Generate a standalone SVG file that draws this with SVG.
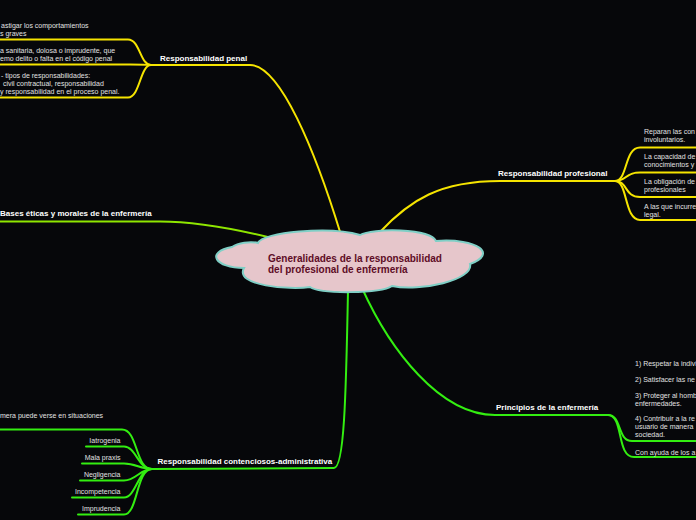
<svg xmlns="http://www.w3.org/2000/svg" width="696" height="520" viewBox="0 0 696 520">
<style>
.y{fill:none;stroke:#f5e400;stroke-width:2;stroke-linecap:round}
.g{fill:none;stroke:#33ee11;stroke-width:2;stroke-linecap:round}
.lg{fill:none;stroke:#8ee600;stroke-width:2;stroke-linecap:round}
.t{font-family:"Liberation Sans",Arial,sans-serif;font-size:7px;fill:#e2e2e2}
.n{font-family:"Liberation Sans",Arial,sans-serif;font-size:8px;font-weight:bold;fill:#ffffff}
.c{font-family:"Liberation Sans",Arial,sans-serif;font-size:10px;font-weight:bold;fill:#5e0c26}
</style>
<rect width="696" height="520" fill="#06070a"/>
<g id="connectors">
<path class="y" d="M341,235 C315,150 280,65 250,65 L151,65"/>
<path class="y" d="M151,65 C140,65 140,39.5 128,39.5 L0,39.5"/>
<path class="y" d="M151,65 C145,64.5 140,64.5 130,64.5 L0,64.5"/>
<path class="y" d="M151,65 C140,65 140,97.5 128,97.5 L0,97.5"/>
<path class="y" d="M380,232 C410,200 440,181 500,181 L615,181"/>
<path class="y" d="M615,181 C628,181 624,147.5 640,147.5 L696,147.5"/>
<path class="y" d="M615,181 C628,181 624,172.5 640,172.5 L696,172.5"/>
<path class="y" d="M615,181 C628,181 624,197 640,197 L696,197"/>
<path class="y" d="M615,181 C628,181 624,220 640,220 L696,220"/>
<path class="lg" d="M276,239 C240,230 200,221.5 160,221.5 L0,221.5"/>
<path class="g" d="M362,288 C390,350 440,415 495,415 L608,415"/>
<path class="g" d="M608,415 C622,415 617,441 632,441 L696,441"/>
<path class="g" d="M608,415 C624,415 616,457 634,457 L696,457"/>
<path class="g" d="M348,290 C346,400 344,468 334,468 L152,469"/>
<path class="g" d="M152,469 C135,469 138,429.5 122,429.5 L0,429.5"/>
<path class="g" d="M152,469 C138,469 136,446.5 124,446.5 L86,446.5"/>
<path class="g" d="M152,469 C140,469 136,463.5 124,463.5 L82,463.5"/>
<path class="g" d="M152,469 C140,469 136,480.5 124,480.5 L80,480.5"/>
<path class="g" d="M152,469 C138,469 136,497.5 124,497.5 L72,497.5"/>
<path class="g" d="M152,469 C136,469 138,514.5 124,514.5 L78,514.5"/>
</g>
<g id="center">
<path d="M258,243 C262,232 330,226 360,235 C372,228 430,228 436,241 C478,238 498,254 470,264 C474,280 420,292 392,286 C380,294 320,294 310,287 C290,290 234,286 244,268 C215,268 205,252 232,247 C238,243 250,241 258,243 Z" fill="#e6c6cb" stroke="#7fcfc6" stroke-width="2"/>
<text class="c" x="268" y="262">Generalidades de la responsabilidad</text>
<text class="c" x="268" y="273">del profesional de enfermería</text>
</g>
<g id="penal">
<text class="n" x="160" y="60.5">Responsabilidad penal</text>
</g>
<g id="penal-1">
<text class="t" x="1" y="27.5">astigar los comportamientos</text>
<text class="t" x="0" y="35.5">s graves</text>
</g>
<g id="penal-2">
<text class="t" x="0" y="52.5">a sanitaria, dolosa o imprudente, que</text>
<text class="t" x="0" y="60.5">emo delito o falta en el código penal</text>
</g>
<g id="penal-3">
<text class="t" x="1" y="77.5">- tipos de responsabilidades:</text>
<text class="t" x="3" y="85.5">civil contractual, responsabilidad</text>
<text class="t" x="0" y="93.5">y responsabilidad en el proceso penal.</text>
</g>
<g id="profesional">
<text class="n" x="498" y="175.5">Responsabilidad profesional</text>
</g>
<g id="prof-1"><text class="t" x="644" y="133.5">Reparan las con</text><text class="t" x="644" y="141.5">involuntarios.</text></g>
<g id="prof-2"><text class="t" x="644" y="158.5">La capacidad de</text><text class="t" x="644" y="166.5">conocimientos y</text></g>
<g id="prof-3"><text class="t" x="644" y="183.5">La obligación de</text><text class="t" x="644" y="191.5">profesionales</text></g>
<g id="prof-4"><text class="t" x="644" y="208.5">A las que incurre</text><text class="t" x="644" y="216.5">legal.</text></g>
<g id="bases">
<text class="n" x="0" y="215.5">Bases éticas y morales de la enfermería</text>
</g>
<g id="principios">
<text class="n" x="496" y="409.5">Principios de la enfermería</text>
</g>
<g id="prin-1"><text class="t" x="635" y="365.5">1) Respetar la indivi</text></g>
<g id="prin-2"><text class="t" x="635" y="381.5">2) Satisfacer las ne</text></g>
<g id="prin-3"><text class="t" x="635" y="397.5">3) Proteger al homb</text><text class="t" x="635" y="405.5">enfermedades.</text></g>
<g id="prin-4"><text class="t" x="635" y="420.5">4) Contribuir a la re</text><text class="t" x="635" y="428.5">usuario de manera</text><text class="t" x="635" y="436.5">sociedad.</text></g>
<g id="prin-5"><text class="t" x="635" y="454.5">Con ayuda de los a</text></g>
<g id="contencioso">
<text class="n" x="157.5" y="464">Responsabilidad contenciosos-administrativa</text>
</g>
<g id="cont-1"><text class="t" x="0" y="418">mera puede verse en situaciones</text></g>
<g id="cont-2"><text class="t" x="120.5" y="443" text-anchor="end">Iatrogenia</text></g>
<g id="cont-3"><text class="t" x="120.5" y="460" text-anchor="end">Mala praxis</text></g>
<g id="cont-4"><text class="t" x="120.5" y="477" text-anchor="end">Negligencia</text></g>
<g id="cont-5"><text class="t" x="120.5" y="494" text-anchor="end">Incompetencia</text></g>
<g id="cont-6"><text class="t" x="120.5" y="511" text-anchor="end">Imprudencia</text></g>
</svg>
